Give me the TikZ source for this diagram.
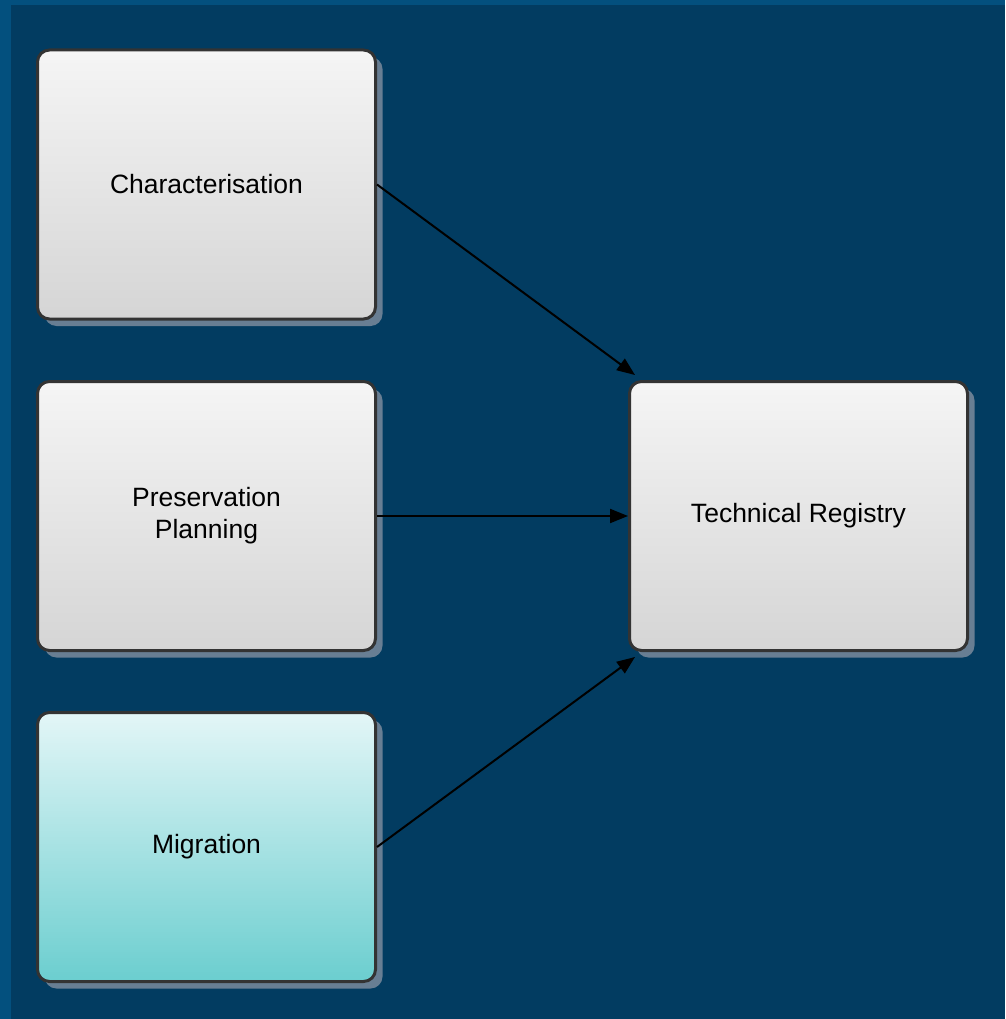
\documentclass[tikz,border=0pt]{standalone}
\usepackage{fontspec}
\setmainfont{Liberation Sans}
\usetikzlibrary{arrows.meta,shadows}
\definecolor{frameblue}{HTML}{03507E}
\definecolor{pageblue}{HTML}{023C61}
\definecolor{boxline}{HTML}{333333}
\definecolor{shadowc}{HTML}{687E93}
\definecolor{greytop}{HTML}{F5F5F5}
\definecolor{greybot}{HTML}{D5D5D5}
\definecolor{tealtop}{HTML}{E3F6F7}
\definecolor{tealbot}{HTML}{6BCECF}
\tikzset{
  x=1pt, y=-1pt,
  block/.style={rectangle, rounded corners=12pt, draw=boxline, line width=3pt,
    minimum width=338pt, minimum height=269pt, align=center,
    font=\fontsize{26.5}{32}\selectfont, text=black,
    drop shadow={shadow xshift=7pt, shadow yshift=-7pt, fill=shadowc, opacity=1},
    top color=greytop, bottom color=greybot},
  tealblock/.style={block, top color=tealtop, bottom color=tealbot},
  link/.style={line width=2pt, draw=black, -{Triangle[length=18pt,width=14pt]}}
}
\begin{document}
\begin{tikzpicture}
  % page background with the lighter frame on the left and top
  \fill[frameblue] (0,0) rectangle (1005,1019);
  \fill[pageblue] (11,5) rectangle (1005,1019);
  \useasboundingbox (0,0) rectangle (1005,1019);

  \node[block] (char) at (206.5,184.5) {Characterisation};
  \node[block] (plan) at (206.5,516) {Preservation\\Planning};
  \node[tealblock] (mig) at (206.5,847) {Migration};
  \node[block] (reg) at (798.5,516) {Technical Registry};

  \coordinate (regtop) at ([shift={(7,-5)}]reg.north west);
  \coordinate (regbot) at ([shift={(7,5)}]reg.south west);

  \draw[link] (char.east) -- (regtop);
  \draw[link] (plan.east) -- (reg.west);
  \draw[link] (mig.east) -- (regbot);
\end{tikzpicture}
\end{document}
